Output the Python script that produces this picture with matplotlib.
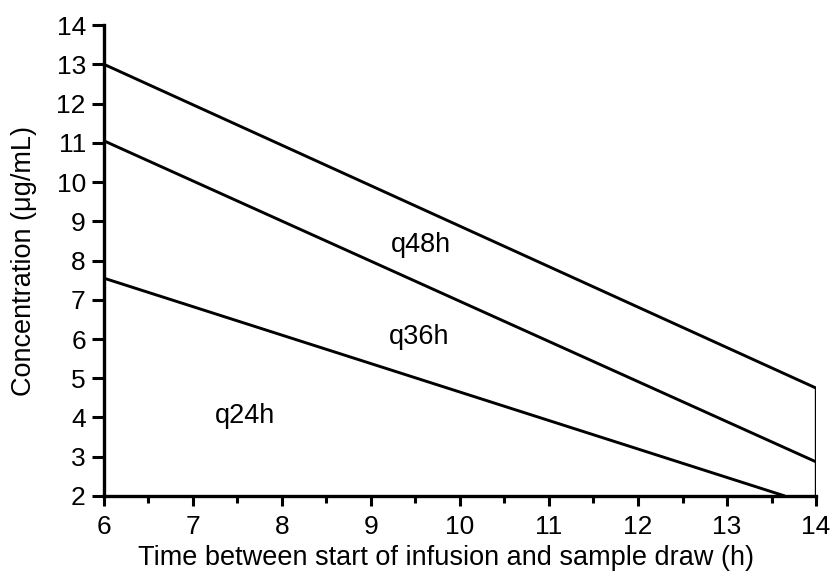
import matplotlib
matplotlib.use("Agg")
import matplotlib.pyplot as plt
from matplotlib.ticker import MultipleLocator

# ------------ data ------------
x_start = [6, 6, 6]
x_end = [14, 14, 13.65]
c_start = [13.0, 11.05, 7.55]
c_end = [4.75, 2.87, 2.0]
names = ["q48h", "q36h", "q24h"]
label_x = [9.56, 9.54, 7.58]
label_y = [8.4, 6.05, 4.04]

plt.rcParams['font.family'] = ['Liberation Sans', 'DejaVu Sans']

fig = plt.figure(figsize=(8.31, 5.86), dpi=100)
ax = fig.add_axes([0.125, 0.1536, 0.857, 0.8037])

for i in range(len(names)):
    ax.plot([x_start[i], x_end[i]], [c_start[i], c_end[i]], color='black', lw=2.1, solid_capstyle='butt')
    ax.text(label_x[i], label_y[i], names[i], fontsize=19.5, ha='center', va='center')

# right edge closes the region under the top line
ax.plot([14, 14], [2, c_end[0]], color='black', lw=2.4)

ax.set_xlim(6, 14)
ax.set_ylim(2, 14)
ax.xaxis.set_major_locator(MultipleLocator(1))
ax.xaxis.set_minor_locator(MultipleLocator(0.5))
ax.yaxis.set_major_locator(MultipleLocator(1))

ax.spines['top'].set_visible(False)
ax.spines['right'].set_visible(False)
ax.spines['left'].set_linewidth(2.4)
ax.spines['bottom'].set_linewidth(2.4)

ax.tick_params(axis='both', which='major', direction='out', width=2.2, labelsize=19)
ax.tick_params(axis='y', which='major', length=9, pad=4)
ax.tick_params(axis='x', which='major', length=7, pad=7)
ax.tick_params(axis='x', which='minor', direction='out', length=5, width=2.2)

ax.set_xlabel("Time between start of infusion and sample draw (h)", fontsize=19.5, labelpad=4, x=0.481)
ax.set_ylabel("Concentration (\u03bcg/mL)", fontsize=19.5, labelpad=14)

fig.savefig("out.png", dpi=100)
